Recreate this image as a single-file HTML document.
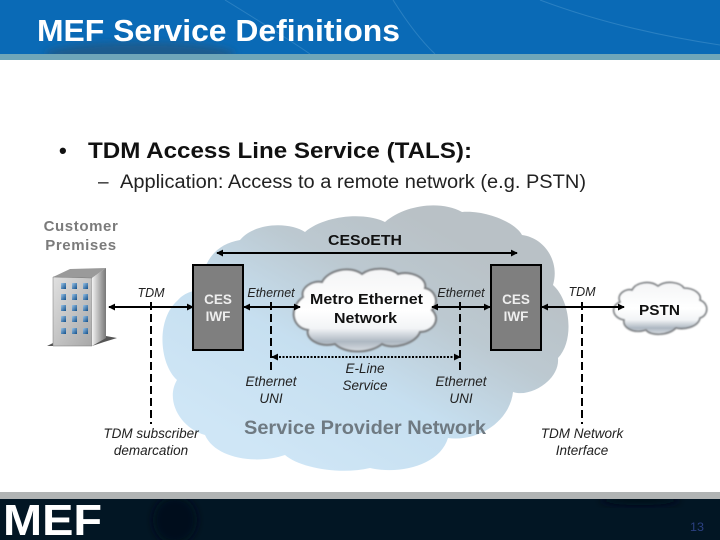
<!DOCTYPE html>
<html><head><meta charset="utf-8"><style>html,body{margin:0;padding:0;background:#fff}svg{display:block}text{font-family:"Liberation Sans",sans-serif}</style></head>
<body>
<svg width="720" height="540" viewBox="0 0 720 540" xmlns="http://www.w3.org/2000/svg">
<defs>
<linearGradient id="big" x1="0.15" y1="0.85" x2="0.75" y2="0.15"><stop offset="0" stop-color="#cfe6f6"/><stop offset="0.4" stop-color="#c6dff0"/><stop offset="0.72" stop-color="#bcc9d1"/><stop offset="1" stop-color="#b9c1c6"/></linearGradient>
<linearGradient id="cl" x1="0" y1="0" x2="0" y2="1"><stop offset="0" stop-color="#f4f5f6"/><stop offset="0.5" stop-color="#fff"/><stop offset="0.72" stop-color="#f2f4f6"/><stop offset="0.88" stop-color="#aeb8c2"/><stop offset="1" stop-color="#d8dde2"/></linearGradient>
<linearGradient id="front" x1="0" y1="0" x2="1" y2="1"><stop offset="0" stop-color="#e0e0e0"/><stop offset="1" stop-color="#a8a8a8"/></linearGradient>
<linearGradient id="side" x1="0" y1="0" x2="1" y2="0"><stop offset="0" stop-color="#f2f2f2"/><stop offset="1" stop-color="#777"/></linearGradient>
<linearGradient id="win" x1="0" y1="0" x2="1" y2="1"><stop offset="0" stop-color="#9cc4e6"/><stop offset="1" stop-color="#0f4f8c"/></linearGradient>
<filter id="b1"><feGaussianBlur stdDeviation="0.9"/></filter>
<filter id="b3" x="-30%" y="-30%" width="160%" height="160%"><feGaussianBlur stdDeviation="4"/></filter>
<clipPath id="hc"><rect width="720" height="54"/></clipPath>
<clipPath id="fc"><rect y="499" width="720" height="41"/></clipPath>
<marker id="ah" viewBox="0 0 8 8" refX="7" refY="4" markerWidth="7" markerHeight="7" orient="auto-start-reverse" markerUnits="userSpaceOnUse"><path d="M0 0L8 4L0 8Z" fill="#000"/></marker>
</defs>

<!-- header -->
<rect width="720" height="54" fill="#0a6ab6"/>
<g clip-path="url(#hc)">
<ellipse cx="140" cy="54" rx="95" ry="12" fill="#1a5c8e" filter="url(#b3)"/>
<path d="M225 0Q290 40 310 54M393 0Q415 35 435 54M540 0Q620 30 720 45" stroke="#2a80c2" fill="none" stroke-width="1"/>
</g>
<rect y="54" width="720" height="6" fill="#6fa6b9"/>
<text x="37" y="41" font-size="31" font-weight="bold" fill="#fff" textLength="363" lengthAdjust="spacingAndGlyphs">MEF Service Definitions</text>

<text x="59" y="158" font-size="22" font-weight="bold" fill="#111">•</text>
<text x="88" y="158" font-size="22" font-weight="bold" fill="#111" textLength="384" lengthAdjust="spacingAndGlyphs">TDM Access Line Service (TALS):</text>
<text x="98" y="188" font-size="19" fill="#222">–</text>
<text x="120" y="188" font-size="19" fill="#222" textLength="466" lengthAdjust="spacingAndGlyphs">Application: Access to a remote network (e.g. PSTN)</text>

<!-- provider cloud -->
<path d="M203 290C200 270 210 245 240 240C255 222 290 222 305 232C325 215 365 212 385 222C405 205 440 200 462 212C485 210 515 222 522 235C545 238 560 262 553 285C570 300 575 340 558 358C560 380 530 398 513 392C510 420 480 442 448 438C440 465 400 475 370 468C340 475 300 468 285 455C255 465 215 458 205 435C180 428 165 400 177 380C160 365 155 320 178 300C185 292 195 290 203 290Z" fill="url(#big)"/>

<!-- building -->
<path d="M47 346L53 343L92 343L106 336L117 338L104 342L92 346Z" fill="#555"/>
<polygon points="53,277 70,269 106,268 92,278" fill="#9a9a9a"/>
<polygon points="53,277 92,278 92,346 53,346" fill="url(#front)" stroke="#777" stroke-width="0.5"/>
<polygon points="92,278 106,268 106,338 92,346" fill="url(#side)"/>
<g fill="url(#win)">
<rect x="61" y="283" width="5" height="6"/><rect x="72" y="283" width="5" height="6"/><rect x="83" y="283" width="5" height="6"/>
<rect x="61" y="294" width="5" height="6"/><rect x="72" y="294" width="5" height="6"/><rect x="83" y="294" width="5" height="6"/>
<rect x="61" y="305" width="5" height="6"/><rect x="72" y="305" width="5" height="6"/><rect x="83" y="305" width="5" height="6"/>
<rect x="61" y="316" width="5" height="6"/><rect x="72" y="316" width="5" height="6"/><rect x="83" y="316" width="5" height="6"/>
<rect x="61" y="328" width="5" height="6"/><rect x="72" y="328" width="5" height="6"/><rect x="83" y="328" width="5" height="6"/>
</g>

<!-- metro cloud -->
<path d="M303 297C300 288 312 280 322 282C328 270 350 265 362 274C372 266 392 268 398 274C410 270 428 278 425 288C435 290 440 302 432 310C442 320 432 332 420 332C416 344 392 350 382 344C370 354 345 354 335 344C318 348 305 338 308 330C292 328 288 308 303 297Z" fill="url(#cl)"/>
<path d="M303 297C300 288 312 280 322 282C328 270 350 265 362 274C372 266 392 268 398 274C410 270 428 278 425 288C435 290 440 302 432 310C442 320 432 332 420 332C416 344 392 350 382 344C370 354 345 354 335 344C318 348 305 338 308 330C292 328 288 308 303 297Z" fill="none" stroke="#7c7f82" stroke-width="2" filter="url(#b1)"/>
<!-- PSTN cloud -->
<path d="M620 302C616 294 626 288 632 290C636 282 650 280 658 286C666 280 680 282 684 288C694 288 702 294 700 300C710 304 708 316 700 318C698 328 682 330 676 328C668 336 650 336 646 330C634 334 622 328 624 320C612 318 610 306 620 302Z" fill="url(#cl)"/>
<path d="M620 302C616 294 626 288 632 290C636 282 650 280 658 286C666 280 680 282 684 288C694 288 702 294 700 300C710 304 708 316 700 318C698 328 682 330 676 328C668 336 650 336 646 330C634 334 622 328 624 320C612 318 610 306 620 302Z" fill="none" stroke="#7c7f82" stroke-width="1.6" filter="url(#b1)"/>

<!-- boxes -->
<rect x="193" y="265" width="50" height="85" fill="#7f7f7f" stroke="#000" stroke-width="2"/>
<rect x="491" y="265" width="50" height="85" fill="#7f7f7f" stroke="#000" stroke-width="2"/>

<!-- lines -->
<g stroke="#000" fill="none">
<line x1="109" y1="307" x2="193" y2="307" stroke-width="2" marker-start="url(#ah)" marker-end="url(#ah)"/>
<line x1="244" y1="307" x2="300" y2="307" stroke-width="2" marker-start="url(#ah)" marker-end="url(#ah)"/>
<line x1="432" y1="307" x2="490" y2="307" stroke-width="2" marker-start="url(#ah)" marker-end="url(#ah)"/>
<line x1="542" y1="307" x2="624" y2="307" stroke-width="2" marker-start="url(#ah)" marker-end="url(#ah)"/>
<line x1="217" y1="253" x2="517" y2="253" stroke-width="2" marker-start="url(#ah)" marker-end="url(#ah)"/>
<g stroke-width="2" stroke-dasharray="8 4">
<line x1="151" y1="302" x2="151" y2="424"/>
<line x1="582" y1="302" x2="582" y2="424"/>
<line x1="271" y1="302" x2="271" y2="371"/>
<line x1="460" y1="302" x2="460" y2="371"/>
</g>
<line x1="272" y1="357" x2="460" y2="357" stroke-width="2" stroke-dasharray="2 1.5" marker-start="url(#ah)" marker-end="url(#ah)"/>
</g>

<!-- labels -->
<g font-size="15" font-weight="bold" fill="#7b7b7b" text-anchor="middle" letter-spacing="0.6">
<text x="81" y="231">Customer</text><text x="81" y="250">Premises</text>
</g>
<text x="328" y="245" font-size="14.5" font-weight="bold" fill="#111" textLength="74" lengthAdjust="spacingAndGlyphs">CESoETH</text>
<g font-size="13.5" font-weight="bold" fill="#eee" text-anchor="middle">
<text x="218" y="304">CES</text><text x="218" y="321">IWF</text>
<text x="516" y="304">CES</text><text x="516" y="321">IWF</text>
</g>
<text x="310" y="304" font-size="15" font-weight="bold" fill="#111" textLength="113" lengthAdjust="spacingAndGlyphs">Metro Ethernet</text>
<text x="334" y="323" font-size="15" font-weight="bold" fill="#111" textLength="63" lengthAdjust="spacingAndGlyphs">Network</text>
<text x="639" y="315" font-size="15" font-weight="bold" fill="#111" textLength="41" lengthAdjust="spacingAndGlyphs">PSTN</text>
<g font-size="12.5" font-style="italic" fill="#222" text-anchor="middle">
<text x="151" y="297">TDM</text>
<text x="271" y="297">Ethernet</text>
<text x="461" y="297">Ethernet</text>
<text x="582" y="296">TDM</text>
</g>
<g font-size="13.5" font-style="italic" fill="#222" text-anchor="middle">
<text x="271" y="386">Ethernet</text><text x="271" y="403">UNI</text>
<text x="461" y="386">Ethernet</text><text x="461" y="403">UNI</text>
<text x="365" y="373">E-Line</text><text x="365" y="390">Service</text>
<text x="151" y="438">TDM subscriber</text><text x="151" y="455">demarcation</text>
<text x="582" y="438">TDM Network</text><text x="582" y="455">Interface</text>
</g>
<text x="244" y="434" font-size="19.5" font-weight="bold" fill="#6f7a82" textLength="242" lengthAdjust="spacingAndGlyphs">Service Provider Network</text>

<!-- footer -->
<rect y="492" width="720" height="7" fill="#b1b4b4"/>
<rect y="499" width="720" height="41" fill="#021624"/>
<g clip-path="url(#fc)">
<ellipse cx="175" cy="520" rx="22" ry="24" fill="#02111c" filter="url(#b3)"/>
<ellipse cx="640" cy="500" rx="40" ry="5" fill="#02111c" filter="url(#b3)"/>
</g>
<text x="3" y="535" font-size="44" font-weight="bold" fill="#fff" textLength="99" lengthAdjust="spacingAndGlyphs">MEF</text>
<text x="690" y="531" font-size="12" fill="#2b4080" textLength="14" lengthAdjust="spacingAndGlyphs">13</text>
</svg>
</body></html>
